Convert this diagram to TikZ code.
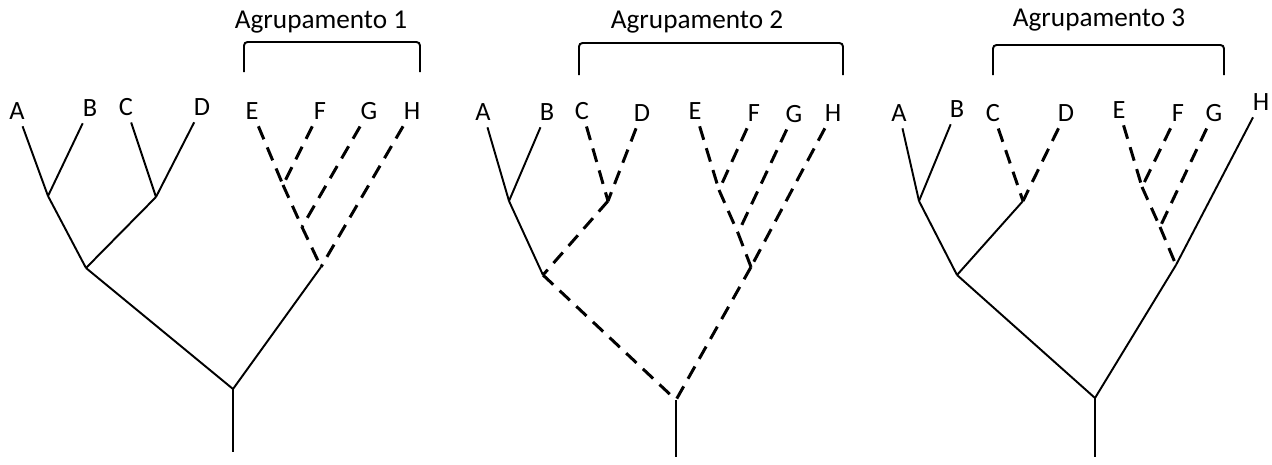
\documentclass[tikz,border=0pt]{standalone}
\usepackage{fontspec}
\setmainfont{Carlito}

\begin{document}
\begin{tikzpicture}
  [x=0.02cm,y=-0.02cm,
   leaf/.style={font=\fontsize{15}{17}\selectfont,inner xsep=0.05cm,inner ysep=0.13cm},
   title/.style={font=\fontsize{15.5}{18}\selectfont,inner sep=0pt},
   solid branch/.style={line width=1.1pt},
   dashed branch/.style={line width=1.7pt,dash pattern=on 8pt off 5pt},
   bracket/.style={line width=1.1pt,rounded corners=2pt}]
  \useasboundingbox (0,0) rectangle (1272,464);

  \node[leaf] (a1) at (17,111) {A};
  \node[leaf] (b1) at (90,108) {B};
  \node[leaf] (c1) at (126,107) {C};
  \node[leaf] (d1) at (202,107) {D};
  \node[leaf] (e1) at (252,111) {E};
  \node[leaf] (f1) at (320,111) {F};
  \node[leaf] (g1) at (369,111) {G};
  \node[leaf] (h1) at (412,111) {H};
  \coordinate (ab1) at (48,196);
  \coordinate (cd1) at (156,197);
  \coordinate (abcd1) at (86,268);
  \coordinate (ef1) at (283,185);
  \coordinate (efg1) at (302,227);
  \coordinate (efgh1) at (321,267);
  \coordinate (r1) at (233,389);
  \coordinate (s1) at (233,452);
  \node[title] (t1) at (321,22) {Agrupamento 1};
  \draw[bracket] (244,72) -- (244,42) -- (420,42) -- (420,72);

  \node[leaf] (a2) at (483,112) {A};
  \node[leaf] (b2) at (547,112) {B};
  \node[leaf] (c2) at (582,111) {C};
  \node[leaf] (d2) at (642,113) {D};
  \node[leaf] (e2) at (695,111) {E};
  \node[leaf] (f2) at (754,113) {F};
  \node[leaf] (g2) at (794,114) {G};
  \node[leaf] (h2) at (833,113) {H};
  \coordinate (ab2) at (509,201);
  \coordinate (cd2) at (608,201);
  \coordinate (abcd2) at (543,275);
  \coordinate (ef2) at (719,190);
  \coordinate (efg2) at (738,233);
  \coordinate (efgh2) at (751,267);
  \coordinate (r2) at (676,400);
  \coordinate (s2) at (676,457);
  \node[title] (t2) at (697,22) {Agrupamento 2};
  \draw[bracket] (579,75) -- (579,43) -- (843,43) -- (843,75);

  \node[leaf] (a3) at (899,113) {A};
  \node[leaf] (b3) at (957,109) {B};
  \node[leaf] (c3) at (993,113) {C};
  \node[leaf] (d3) at (1066,113) {D};
  \node[leaf] (e3) at (1119,110) {E};
  \node[leaf] (f3) at (1178,113) {F};
  \node[leaf] (g3) at (1214,113) {G};
  \node[leaf] (h3) at (1261,102) {H};
  \coordinate (ab3) at (919,201);
  \coordinate (cd3) at (1023,201);
  \coordinate (abcd3) at (957,275);
  \coordinate (ef3) at (1142,187);
  \coordinate (efg3) at (1160,227);
  \coordinate (efgh3) at (1176,265);
  \coordinate (r3) at (1095,398);
  \coordinate (s3) at (1095,457);
  \node[title] (t3) at (1099,20) {Agrupamento 3};
  \draw[bracket] (993,75) -- (993,45) -- (1224,45) -- (1224,75);

  \foreach \from/\to in {a1/ab1,b1/ab1,ab1/abcd1,c1/cd1,d1/cd1,cd1/abcd1,abcd1/r1,efgh1/r1,r1/s1,
                         a2/ab2,b2/ab2,ab2/abcd2,r2/s2,
                         a3/ab3,b3/ab3,ab3/abcd3,cd3/abcd3,abcd3/r3,h3/efgh3,efgh3/r3,r3/s3}
    \draw[solid branch] (\from) -- (\to);

  \foreach \from/\to in {e1/ef1,f1/ef1,ef1/efg1,g1/efg1,efg1/efgh1,h1/efgh1,
                         c2/cd2,d2/cd2,cd2/abcd2,abcd2/r2,e2/ef2,f2/ef2,ef2/efg2,g2/efg2,efg2/efgh2,h2/efgh2,efgh2/r2,
                         c3/cd3,d3/cd3,e3/ef3,f3/ef3,ef3/efg3,g3/efg3,efg3/efgh3}
    \draw[dashed branch] (\from) -- (\to);
\end{tikzpicture}
\end{document}
